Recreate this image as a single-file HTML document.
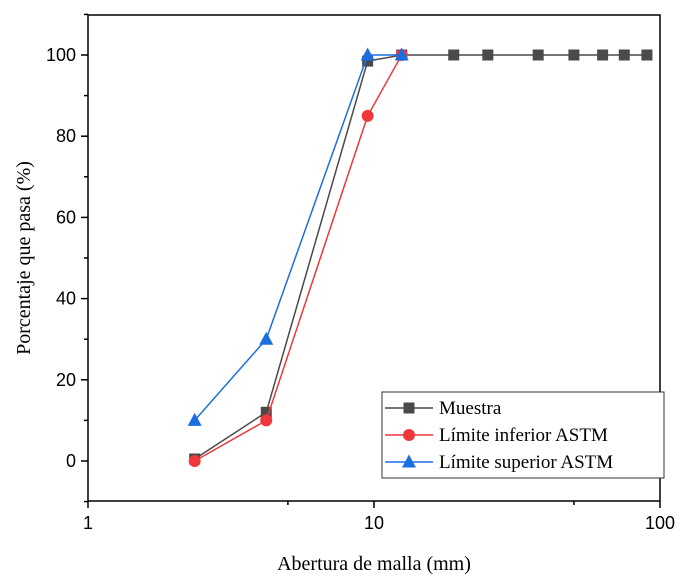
<!DOCTYPE html>
<html><head><meta charset="utf-8"><style>
body{margin:0;background:#fff;}
svg{display:block;}
.tick{font-family:"Liberation Sans",Arial,sans-serif;font-size:18px;fill:#000;}
.ttl{font-family:"Liberation Serif","Times New Roman",serif;font-size:20px;fill:#000;}
.leg{font-family:"Liberation Serif","Times New Roman",serif;font-size:19px;fill:#000;}
</style></head><body>
<svg id="chart" width="690" height="577" xmlns="http://www.w3.org/2000/svg"></svg>
<script>
const xMuestra=[2.36,4.2,9.5,12.5,19,25,37.5,50,63,75,90];
const yMuestra=[0.5,12,98.5,100,100,100,100,100,100,100,100];
const xInferior=[2.36,4.2,9.5,12.5];
const yInferior=[0,10,85,100];
const xSuperior=[2.36,4.2,9.5,12.5];
const ySuperior=[10,30,100,100];
const xTicks=[1,10,100];
const xTickLabels=["1","10","100"];
const xMinor=[5,50];
const yTicks=[0,20,40,60,80,100];
const yMinor=[-10,10,30,50,70,90,110];

const NS="http://www.w3.org/2000/svg";
const svg=document.getElementById('chart');
const L=88,R=660,T=15,B=501;
const sx=v=>L+(R-L)*Math.log10(v)/2;
const sy=v=>461-(461-55)*v/100;
function el(tag,attrs,parent){const e=document.createElementNS(NS,tag);for(const k in attrs)e.setAttribute(k,attrs[k]);(parent||svg).appendChild(e);return e;}

const frame=el('rect',{x:L,y:T,width:R-L,height:B-T,fill:'none',stroke:'#000','stroke-width':1.5});



xTicks.forEach((v,i)=>{
  const t=el('line',{x1:sx(v),x2:sx(v),y1:B,y2:B+7,stroke:'#000','stroke-width':1.5});
  
  
  const lb=el('text',{x:sx(v),y:B+28,'text-anchor':'middle',class:'tick'});
  lb.textContent=xTickLabels[i];
  
  
});
xMinor.forEach(v=>{
  const t=el('line',{x1:sx(v),x2:sx(v),y1:B,y2:B+4,stroke:'#000','stroke-width':1.5});
  
  
});
yTicks.forEach(v=>{
  const t=el('line',{x1:L-7,x2:L,y1:sy(v),y2:sy(v),stroke:'#000','stroke-width':1.5});
  
  
  const lb=el('text',{x:L-12,y:sy(v)+6,'text-anchor':'end',class:'tick'});
  lb.textContent=String(v);
  
  
});
yMinor.forEach(v=>{
  const t=el('line',{x1:L-4,x2:L,y1:sy(v),y2:sy(v),stroke:'#000','stroke-width':1.5});
  
  
});

const xt=el('text',{x:(L+R)/2,y:570,'text-anchor':'middle',class:'ttl'});
xt.textContent='Abertura de malla (mm)';


const yt=el('text',{x:0,y:0,'text-anchor':'middle',class:'ttl',transform:'translate(30,258) rotate(-90)'});
yt.textContent='Porcentaje que pasa (%)';



function marker(kind,x,y,color,parent){
  let m;
  if(kind==='sq') m=el('rect',{x:x-5.5,y:y-5.5,width:11,height:11,fill:color},parent);
  else if(kind==='ci') m=el('circle',{cx:x,cy:y,r:6,fill:color},parent);
  else m=el('polygon',{points:`${x},${y-7.5} ${x-7},${y+5.5} ${x+7},${y+5.5}`,fill:color},parent);
  return m;
}
function series(xs,ys,color,kind,name){
  const g=el('g',{});
  
  
  const p=el('polyline',{points:xs.map((v,i)=>sx(v)+','+sy(ys[i])).join(' '),fill:'none',stroke:color,'stroke-width':1.5},g);
  
  
  xs.forEach((v,i)=>{
    const m=marker(kind,sx(v),sy(ys[i]),color,g);
    
    
  });
}
series(xMuestra,yMuestra,'#4a4a4a','sq','series-muestra');
series(xInferior,yInferior,'#f0383c','ci','series-limite-inferior');
series(xSuperior,ySuperior,'#1a6fe0','tr','series-limite-superior');

const lg=el('g',{});


const lbx=el('rect',{x:382,y:392,width:282,height:86,fill:'#fff',stroke:'#333','stroke-width':1},lg);


const entries=[['Muestra','#4a4a4a','sq'],['Límite inferior ASTM','#f0383c','ci'],['Límite superior ASTM','#1a6fe0','tr']];
entries.forEach((e,i)=>{
  const y=408+i*27;
  const eg=el('g',{},lg);
  
  
  el('line',{x1:385,x2:433,y1:y,y2:y,stroke:e[1],'stroke-width':1.5},eg);
  marker(e[2],409,y,e[1],eg);
  const t=el('text',{x:439,y:y+6,class:'leg'},eg);
  t.textContent=e[0];
});
</script>
</body></html>
